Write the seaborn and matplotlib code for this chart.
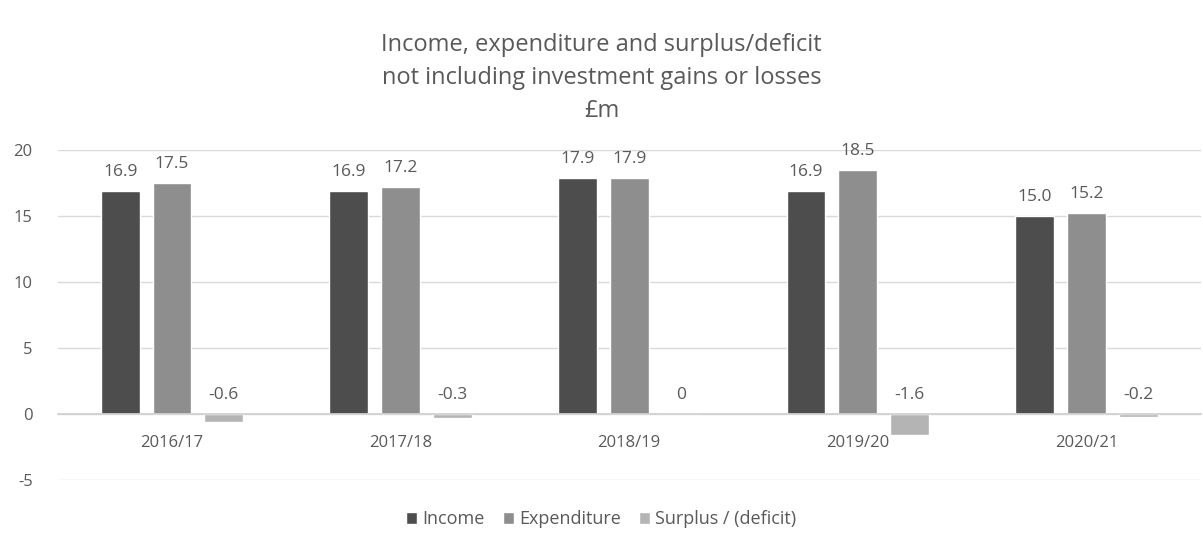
import matplotlib
matplotlib.use("Agg")
import matplotlib.pyplot as plt
import seaborn as sns
import pandas as pd
from matplotlib.patches import Patch

years = ["2016/17", "2017/18", "2018/19", "2019/20", "2020/21"]
series = ["Income", "Expenditure", "Surplus / (deficit)"]
income = [16.9, 16.9, 17.9, 16.9, 15.0]
expenditure = [17.5, 17.2, 17.9, 18.5, 15.2]
surplus = [-0.6, -0.3, 0.0, -1.6, -0.2]
income_labels = ["16.9", "16.9", "17.9", "16.9", "15.0"]
expenditure_labels = ["17.5", "17.2", "17.9", "18.5", "15.2"]
surplus_labels = ["-0.6", "-0.3", "0", "-1.6", "-0.2"]
yticks = [-5, 0, 5, 10, 15, 20]
colors = ["#4d4d4d", "#8e8e8e", "#b4b4b4"]
text_color = "#595959"

sns.set_theme(style="white")
plt.rcParams["font.family"] = ["Open Sans", "DejaVu Sans"]

rows = []
for s, vals in zip(series, [income, expenditure, surplus]):
    for y, v in zip(years, vals):
        rows.append({"year": y, "series": s, "value": v})
df = pd.DataFrame(rows)

fig = plt.figure(figsize=(12.03, 5.41), dpi=100)
ax = fig.add_axes([0.048, 0.1128, 0.95, 0.61])

sns.barplot(data=df, x="year", y="value", hue="series", palette=colors,
            width=0.68, gap=0.25, ax=ax, legend=False, saturation=1,
            errorbar=None)

ax.set_ylim(-5, 20)
ax.set_xlim(-0.5, 4.5)
ax.set_yticks(yticks)
ax.set_yticklabels([str(t) for t in yticks], color=text_color, fontsize=12)
ax.yaxis.grid(True, color="#d9d9d9", linewidth=1)
ax.set_axisbelow(True)
for sp in ["top", "right", "left"]:
    ax.spines[sp].set_visible(False)
ax.spines["bottom"].set_position(("data", 0))
ax.spines["bottom"].set_color("#d0d0d0")
ax.tick_params(axis="x", length=0, pad=15, labelcolor=text_color, labelsize=12)
ax.tick_params(axis="y", length=0, pad=18)
ax.set_xlabel("")
ax.set_ylabel("")

all_labels = [income_labels, expenditure_labels, surplus_labels]
all_vals = [income, expenditure, surplus]
for container, labs, vals in zip(ax.containers, all_labels, all_vals):
    for bar, lab, v in zip(container, labs, vals):
        x = bar.get_x() + bar.get_width() / 2
        ax.annotate(lab, (x, max(v, 0)), xytext=(0, 8), textcoords="offset points",
                    ha="center", va="bottom", fontsize=12.5, color=text_color)

fig.text(0.5, 0.856, "Income, expenditure and surplus/deficit\nnot including investment gains or losses\n£m",
         ha="center", va="center", fontsize=17, color=text_color, linespacing=1.5)

handles = [Patch(facecolor=c, label=s) for c, s in zip(colors, series)]
fig.legend(handles=handles, loc="center", bbox_to_anchor=(0.5, 0.04), ncol=3,
           frameon=False, handlelength=0.6, handleheight=0.6, handletextpad=0.3,
           columnspacing=1.0, fontsize=13, labelcolor=text_color)

fig.savefig("out.png", dpi=100)
